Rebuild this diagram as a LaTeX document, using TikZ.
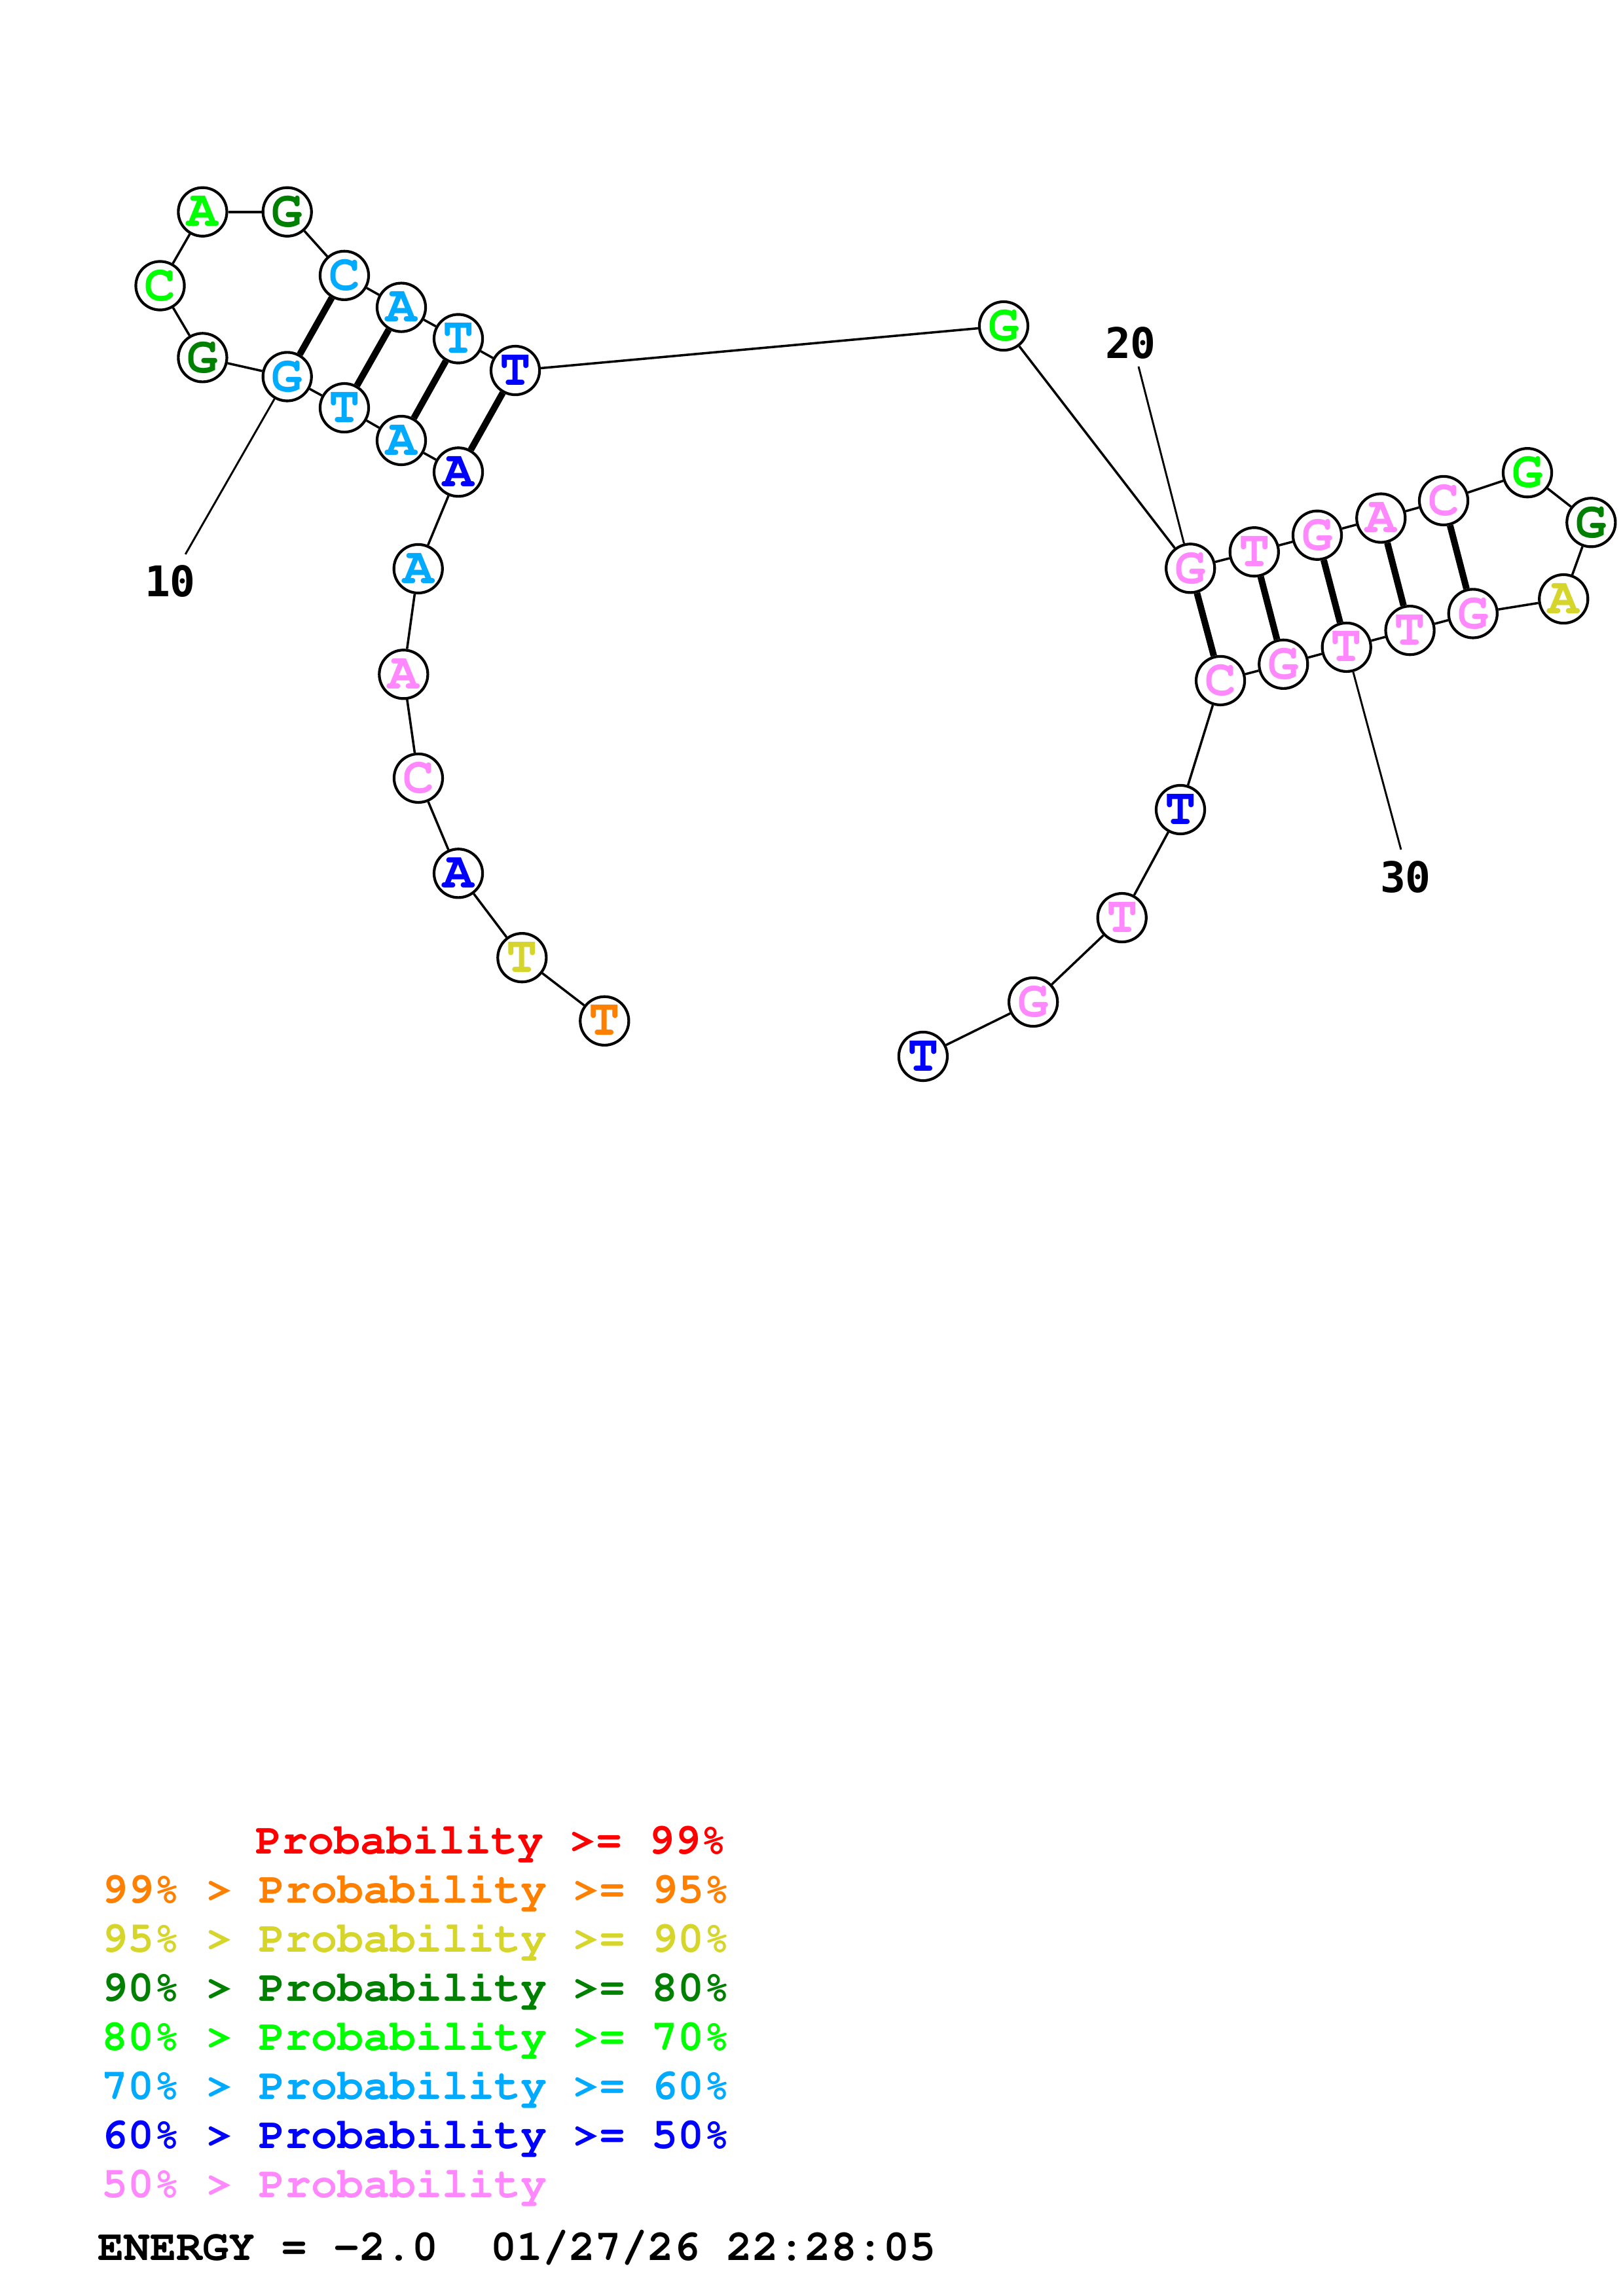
\documentclass[tikz,border=0pt]{standalone}
\usepackage[T1]{fontenc}
\usepackage{fontspec}
\usetikzlibrary{positioning}
\newfontfamily\numfont{DejaVu Sans Mono}
\newcommand{\courfont}{\fontencoding{T1}\fontfamily{pcr}\fontseries{b}}
\newcommand{\nucfont}{\courfont\fontsize{19}{19}\selectfont}
\newcommand{\legfont}{\courfont\fontsize{16}{16}\selectfont}
\newcommand{\labfont}{\numfont\bfseries\fontsize{15.5}{15.5}\selectfont}
\definecolor{pred}{HTML}{FF0000}
\definecolor{porange}{HTML}{FF8000}
\definecolor{pyellow}{HTML}{D5D52B}
\definecolor{pdgreen}{HTML}{008000}
\definecolor{pgreen}{HTML}{00FF00}
\definecolor{plblue}{HTML}{00AAFF}
\definecolor{pblue}{HTML}{0000FF}
\definecolor{ppink}{HTML}{FF88FF}

\begin{document}
\begin{tikzpicture}[x=0.53725pt,y=-0.53725pt,
  base/.style={circle,draw,line width=1pt,minimum size=17.8pt,inner sep=0pt,fill=white,font=\nucfont},
  bb/.style={line width=0.85pt},
  bp/.style={line width=2.4pt},
  tick/.style={line width=0.7pt},
  numlab/.style={font=\labfont},
  leg/.style={anchor=base west,inner sep=0pt,font=\legfont}]
\useasboundingbox (0,0) rectangle (1108,1568);
\foreach \n/\x/\y/\b/\c in {
  1/412.7/697.2/T/porange, 2/356.4/654.0/T/pyellow, 3/312.9/596.4/A/pblue,
  4/285.6/531.4/C/ppink, 5/275.5/460.5/A/ppink, 6/285.5/388.4/A/plblue,
  7/312.9/322.4/A/pblue, 8/274.0/300.8/A/plblue, 9/235.1/278.5/T/plblue,
  10/196.1/257.2/G/plblue, 11/138.3/244.2/G/pdgreen, 12/109.3/195.1/C/pgreen,
  13/138.3/144.7/A/pgreen, 14/196.1/144.7/G/pdgreen, 15/235.1/188.1/C/plblue,
  16/274.0/209.9/A/plblue, 17/312.9/231.3/T/plblue, 18/351.8/253.0/T/pblue,
  19/685.2/222.6/G/pgreen, 20/812.7/388.1/G/ppink, 21/856.3/376.9/T/ppink,
  22/899.3/365.5/G/ppink, 23/942.8/353.8/A/ppink, 24/985.6/341.9/C/ppink,
  25/1042.8/322.8/G/pgreen, 26/1086.3/356.8/G/pdgreen, 27/1067.5/409.0/A/pyellow,
  28/1005.6/419.0/G/ppink, 29/962.6/430.5/T/ppink, 30/919.3/442.0/T/ppink,
  31/876.2/453.6/G/ppink, 32/833.2/464.8/C/ppink, 33/805.9/552.9/T/pblue,
  34/766.0/626.7/T/ppink, 35/705.4/684.3/G/ppink, 36/630.2/721.4/T/pblue}
  \node[base,text=\c] (n\n) at (\x,\y) {\b};
\foreach \i in {1,...,35}{
  \pgfmathtruncatemacro\j{\i+1}
  \draw[bb] (n\i) -- (n\j);
}
\foreach \a/\b in {7/18,8/17,9/16,10/15,20/32,21/31,22/30,23/29,24/28}
  \draw[bp] (n\a) -- (n\b);

\node[numlab] (l10) at (116.2,397.0) {10};
\node[numlab] (l20) at (771.9,234.2) {20};
\node[numlab] (l30) at (959.6,599.0) {30};
\coordinate (t10) at (126.6,378.5);
\coordinate (t20) at (777.3,250.3);
\coordinate (t30) at (956.5,580.2);
\draw[tick] (n10) -- (t10);
\draw[tick] (n20) -- (t20);
\draw[tick] (n30) -- (t30);

\node[leg,text=pred] (lg1) at (174.3,1266.0) {Probability >= 99\%};
\node[leg,text=porange] (lg2) at (69.3,1299.5) {99\% > Probability >= 95\%};
\node[leg,text=pyellow] (lg3) at (69.3,1333.0) {95\% > Probability >= 90\%};
\node[leg,text=pdgreen] (lg4) at (69.3,1366.5) {90\% > Probability >= 80\%};
\node[leg,text=pgreen] (lg5) at (69.3,1400.0) {80\% > Probability >= 70\%};
\node[leg,text=plblue] (lg6) at (69.3,1433.5) {70\% > Probability >= 60\%};
\node[leg,text=pblue] (lg7) at (69.3,1467.0) {60\% > Probability >= 50\%};
\node[leg,text=ppink] (lg8) at (69.3,1500.5) {50\% > Probability};
\node[leg] (energy) at (66.6,1543.5) {ENERGY = -2.0\ \ 01/27/26 22:28:05};
\end{tikzpicture}
\end{document}
